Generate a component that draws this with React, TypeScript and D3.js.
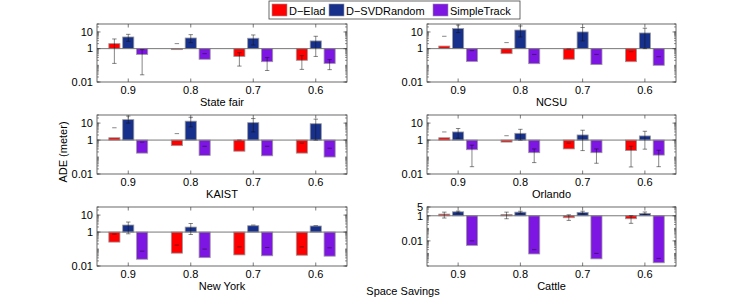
import React from "react";
import * as d3 from "d3";

const groups = ["0.9", "0.8", "0.7", "0.6"];
const seriesNames = ["D\u2212Elad", "D\u2212SVDRandom", "SimpleTrack"];
const seriesColors = ["#ff0000", "#17308c", "#7d15e3"];

// State fair
const stateFairElad = [2.0, 0.87, 0.34, 0.2];
const stateFairSVD = [5.0, 4.35, 4.2, 2.9];
const stateFairSimple = [0.45, 0.23, 0.165, 0.13];
const stateFairLo = [[0.13, 2.0, 0.09, 0.057], [2.75, 2.3, 1.65, 0.34], [0.027, 0.5, 0.049, 0.055]];
const stateFairHi = [[3.8, 2.0, 0.57, 0.38], [7.2, 6.9, 6.6, 5.5], [0.87, 0.5, 0.29, 0.22]];

// NCSU
const ncsuElad = [1.43, 0.5, 0.23, 0.165];
const ncsuSVD = [16, 13, 10, 8.7];
const ncsuSimple = [0.17, 0.125, 0.11, 0.1];
const ncsuLo = [[5.5, 2.3, 0.95, 0.66], [9.2, 5, 2.9, 1.0], [0.76, 0.45, 0.45, 0.33]];
const ncsuHi = [[5.5, 2.3, 0.95, 0.66], [26, 23, 18.5, 16.7], [0.76, 0.45, 0.45, 0.33]];

// KAIST
const kaistElad = [1.37, 0.47, 0.22, 0.17];
const kaistSVD = [16, 13, 10.6, 9.2];
const kaistSimple = [0.17, 0.125, 0.118, 0.1];
const kaistLo = [[5.3, 2.4, 1.0, 0.66], [10, 6, 3, 1.0], [0.75, 0.43, 0.43, 0.33]];
const kaistHi = [[5.3, 2.4, 1.0, 0.66], [26, 22, 18.5, 17], [0.75, 0.43, 0.43, 0.33]];

// Orlando
const orlandoElad = [1.37, 0.76, 0.3, 0.24];
const orlandoSVD = [3.0, 2.5, 2.0, 1.75];
const orlandoSimple = [0.27, 0.18, 0.18, 0.13];
const orlandoLo = [[3.0, 1.8, 0.66, 0.026], [1.3, 1.0, 0.24, 0.29], [0.027, 0.047, 0.043, 0.027]];
const orlandoHi = [[3.0, 1.8, 0.66, 0.43], [4.8, 4.3, 3.8, 3.3], [0.5, 0.3, 0.3, 0.25]];

// New York
const newYorkElad = [0.256, 0.057, 0.045, 0.043];
const newYorkSVD = [2.6, 1.97, 2.36, 2.27];
const newYorkSimple = [0.025, 0.031, 0.04, 0.038];
const newYorkLo = [[0.76, 0.17, 0.135, 0.135], [0.79, 0.72, 2.6, 2.4], [0.075, 0.099, 0.123, 0.118]];
const newYorkHi = [[0.76, 0.17, 0.135, 0.135], [3.9, 3.2, 2.6, 2.4], [0.075, 0.099, 0.123, 0.118]];

// Cattle
const cattleElad = [1.36, 1.28, 0.7, 0.58];
const cattleSVD = [2.07, 1.95, 1.85, 1.55];
const cattleSimple = [0.0044, 0.00091, 0.00037, 0.00018];
const cattleLo = [[0.66, 0.58, 0.43, 0.25], [1.6, 1.5, 1.4, 1.3], [0.01, 0.002, 0.001, 0.0004]];
const cattleHi = [[1.95, 1.95, 1.2, 1.0], [2.35, 2.3, 2.3, 2.0], [0.01, 0.002, 0.001, 0.0004]];

const standardTicks = [0.01, 1, 10];
const standardTickLabels = ["0.01", "1", "10"];
const cattleTicks = [0.01, 1, 5];
const cattleTickLabels = ["0.01", "1", "5"];

type Panel = {
  title: string;
  values: number[][];
  lo: number[][];
  hi: number[][];
  domain: [number, number];
  ticks: number[];
  tickLabels: string[];
  col: number;
  row: number;
};

const panels: Panel[] = [
  { title: "State fair", values: [stateFairElad, stateFairSVD, stateFairSimple], lo: stateFairLo, hi: stateFairHi, domain: [0.01, 30], ticks: standardTicks, tickLabels: standardTickLabels, col: 0, row: 0 },
  { title: "NCSU", values: [ncsuElad, ncsuSVD, ncsuSimple], lo: ncsuLo, hi: ncsuHi, domain: [0.01, 30], ticks: standardTicks, tickLabels: standardTickLabels, col: 1, row: 0 },
  { title: "KAIST", values: [kaistElad, kaistSVD, kaistSimple], lo: kaistLo, hi: kaistHi, domain: [0.01, 30], ticks: standardTicks, tickLabels: standardTickLabels, col: 0, row: 1 },
  { title: "Orlando", values: [orlandoElad, orlandoSVD, orlandoSimple], lo: orlandoLo, hi: orlandoHi, domain: [0.01, 30], ticks: standardTicks, tickLabels: standardTickLabels, col: 1, row: 1 },
  { title: "New York", values: [newYorkElad, newYorkSVD, newYorkSimple], lo: newYorkLo, hi: newYorkHi, domain: [0.01, 30], ticks: standardTicks, tickLabels: standardTickLabels, col: 0, row: 2 },
  { title: "Cattle", values: [cattleElad, cattleSVD, cattleSimple], lo: cattleLo, hi: cattleHi, domain: [0.0001, 5], ticks: cattleTicks, tickLabels: cattleTickLabels, col: 1, row: 2 },
];

const colX = [[97, 347], [427, 676]];
const rowY = [[24, 82], [115, 174], [207, 266]];
const FONT = "'Liberation Sans', Arial, Helvetica, sans-serif";
const AXIS = "#444";

function PanelView({ p }: { p: Panel }) {
  const [x0, x1] = colX[p.col];
  const [yTop, yBot] = rowY[p.row];
  const x = d3.scaleLinear().domain([0.5, 4.5]).range([x0, x1]);
  const y = d3.scaleLog().domain(p.domain).range([yBot, yTop]);
  const offsets = [-0.2222, 0, 0.2222];
  const bw = x(0.178) - x(0);
  const base = y(1);
  const clipId = `clip-${p.col}-${p.row}`;

  const minor: number[] = [];
  const lo = Math.floor(Math.log10(p.domain[0]));
  const hi = Math.ceil(Math.log10(p.domain[1]));
  for (let e = lo; e <= hi; e++) {
    for (let m = 1; m <= 9; m++) {
      const v = m * Math.pow(10, e);
      if (v >= p.domain[0] && v <= p.domain[1]) minor.push(v);
    }
  }

  return (
    <g>
      <defs>
        <clipPath id={clipId}>
          <rect x={x0} y={yTop} width={x1 - x0} height={yBot - yTop} />
        </clipPath>
      </defs>
      <g clipPath={`url(#${clipId})`}>
        {p.values.map((vals, s) =>
          vals.map((v, g) => {
            const cx = x(g + 1 + offsets[s]);
            const yv = y(v);
            return (
              <rect
                key={`b${s}-${g}`}
                x={cx - bw / 2}
                y={Math.min(yv, base)}
                width={bw}
                height={Math.abs(base - yv)}
                fill={seriesColors[s]}
                stroke="#9a9a9a"
                strokeWidth={0.8}
              />
            );
          })
        )}
        <line x1={x0} x2={x1} y1={base} y2={base} stroke="#777" strokeWidth={1} />
        {p.values.map((vals, s) =>
          vals.map((v, g) => {
            const cx = x(g + 1 + offsets[s]);
            const yl = y(p.lo[s][g]);
            const yh = y(p.hi[s][g]);
            const cw = 2.2;
            return (
              <g key={`e${s}-${g}`} stroke="#111" strokeWidth={0.6} strokeOpacity={0.85}>
                {Math.abs(yl - yh) > 0.5 && <line x1={cx} x2={cx} y1={yl} y2={yh} />}
                <line x1={cx - cw} x2={cx + cw} y1={yh} y2={yh} />
                {Math.abs(yl - yh) > 0.5 && <line x1={cx - cw} x2={cx + cw} y1={yl} y2={yl} />}
              </g>
            );
          })
        )}
      </g>
      {/* minor ticks */}
      {minor.map((v, i) => (
        <g key={`m${i}`} stroke={AXIS} strokeWidth={0.6}>
          <line x1={x0} x2={x0 + 2} y1={y(v)} y2={y(v)} />
          <line x1={x1} x2={x1 - 2} y1={y(v)} y2={y(v)} />
        </g>
      ))}
      {p.ticks.map((t, i) => (
        <g key={`t${i}`}>
          <line x1={x0} x2={x0 + 3.5} y1={y(t)} y2={y(t)} stroke={AXIS} strokeWidth={0.7} />
          <line x1={x1} x2={x1 - 3.5} y1={y(t)} y2={y(t)} stroke={AXIS} strokeWidth={0.7} />
          <text x={x0 - 4} y={y(t)} dy="0.35em" textAnchor="end" fontSize={11} fontFamily={FONT} fill="#000">
            {p.tickLabels[i]}
          </text>
        </g>
      ))}
      {groups.map((gname, i) => (
        <g key={`x${i}`}>
          <line x1={x(i + 1)} x2={x(i + 1)} y1={yBot} y2={yBot - 3.5} stroke={AXIS} strokeWidth={0.7} />
          <line x1={x(i + 1)} x2={x(i + 1)} y1={yTop} y2={yTop + 3.5} stroke={AXIS} strokeWidth={0.7} />
          <text x={x(i + 1)} y={yBot + 12} textAnchor="middle" fontSize={11} fontFamily={FONT} fill="#000">
            {gname}
          </text>
        </g>
      ))}
      <rect x={x0} y={yTop} width={x1 - x0} height={yBot - yTop} fill="none" stroke={AXIS} strokeWidth={0.8} />
      <text x={(x0 + x1) / 2} y={yBot + 24} textAnchor="middle" fontSize={11} fontFamily={FONT} fill="#000">
        {p.title}
      </text>
    </g>
  );
}

export default function App() {
  const legendX = [272, 329, 433];
  return (
    <svg width={747} height={307} style={{ position: "absolute", left: 0, top: 0, background: "#fff" }}>
      <rect x={0} y={0} width={747} height={307} fill="#fff" />
      {panels.map((p, i) => (
        <PanelView key={i} p={p} />
      ))}
      {/* legend */}
      <rect x={269} y={1} width={251} height={18} fill="#fff" stroke="#444" strokeWidth={0.8} />
      {seriesNames.map((n, i) => (
        <g key={n}>
          <rect x={legendX[i]} y={4} width={15} height={12} fill={seriesColors[i]} stroke="#9a9a9a" strokeWidth={0.6} />
          <text x={legendX[i] + 17} y={14.5} fontSize={11} fontFamily={FONT} fill="#000">
            {n}
          </text>
        </g>
      ))}
      <text
        transform="translate(67,152) rotate(-90)"
        textAnchor="middle"
        fontSize={11}
        fontFamily={FONT}
        fill="#000"
      >
        ADE (meter)
      </text>
      <text x={403} y={295} textAnchor="middle" fontSize={11} fontFamily={FONT} fill="#000">
        Space Savings
      </text>
    </svg>
  );
}
